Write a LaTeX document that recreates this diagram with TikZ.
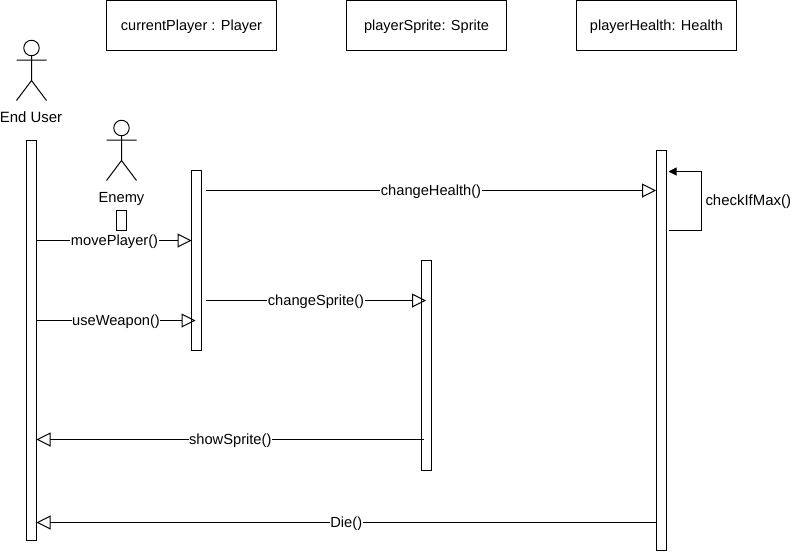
\documentclass[tikz,border=0pt]{standalone}
\usepackage{fontspec}
\setmainfont{Liberation Sans}
\usetikzlibrary{arrows.meta}
\tikzset{
  x=0.75pt,y=-0.75pt,
  every path/.append style={line width=0.75pt},
  txt/.style={font=\fontsize{11pt}{13pt}\selectfont},
  bar/.style={draw=black,fill=white,minimum width=7.5pt,minimum height=#1*0.75pt,inner sep=0pt,outer sep=0pt},
  objbox/.style={font=\fontsize{10.9pt}{13pt}\selectfont,draw=black,fill=white,minimum width=120pt,minimum height=37.5pt,inner sep=0pt,outer sep=0pt,text depth=0pt},
  lbl/.style={txt,fill=white,inner sep=0.4pt,yshift=-1.2pt},
  plain/.style={txt,inner sep=0pt},
  msg/.style={-{Triangle[open,length=10.5pt,width=10.5pt]},line width=0.75pt},
  self/.style={-{Triangle[length=6pt,width=6pt]},line width=0.75pt},
  pics/actor/.style={code={
    \draw (0,8) circle[radius=5.8pt];
    \draw (0,15.5) -- (0,40.5) (-15,20) -- (15,20) (-15,60.5) -- (0,40.5) -- (15,60.5);
  }}
}
\begin{document}
\begin{tikzpicture}
\useasboundingbox (0,0) rectangle (792,551);
% header boxes
\node[objbox,minimum width=127.5pt] (p) at (191.5,25.5) {currentPlayer : Player};
\node[objbox] (s) at (426.5,25.5) {playerSprite: Sprite};
\node[objbox] (h) at (656.5,25.5) {playerHealth: Health};
% actors
\pic at (31.5,40) {actor};
\node[plain,font=\fontsize{11.2pt}{13pt}\selectfont] (ul) at (31,117) {End User};
\pic at (121.5,120) {actor};
\node[plain] (el) at (121.5,198.8) {Enemy};
% activation bars
\node[bar=400] (ub) at (31.5,340.5) {};
\node[bar=20] (eb) at (121.5,220.5) {};
\node[bar=180] (pb) at (196.5,260.5) {};
\node[bar=210] (sb) at (426.5,365.5) {};
\node[bar=400] (hb) at (661.5,350.5) {};
% free ends
\coordinate (a1) at (36.5,240.5);
\coordinate (a2) at (191.5,240.5);
\coordinate (b1) at (36.5,320.5);
\coordinate (b2) at (195.5,320.5);
\coordinate (c1) at (206,190.5);
\coordinate (c2) at (656,190.5);
\coordinate (d1) at (206,300.5);
\coordinate (d2) at (426,300.5);
\coordinate (e1) at (424,439.5);
\coordinate (e2) at (36.5,439.5);
\coordinate (f1) at (656,522.5);
\coordinate (f2) at (36.5,522.5);
\coordinate (g1) at (668.5,230.5);
\coordinate (g2) at (701.5,230.5);
\coordinate (g3) at (701.5,171.5);
\coordinate (g4) at (668.5,171.5);
% messages
\draw[msg] (a1) -- node[lbl,xshift=0.4pt]{movePlayer()} (a2);
\draw[msg] (b1) -- node[lbl]{useWeapon()} (b2);
\draw[msg] (c1) -- node[lbl]{changeHealth()} (c2);
\draw[msg] (d1) -- node[lbl]{changeSprite()} (d2);
\draw[msg] (e1) -- node[lbl]{showSprite()} (e2);
\draw[msg] (f1) -- node[lbl]{Die()} (f2);
\draw[self] (g1) -- (g2) -- (g3) -- (g4);
\node[plain,anchor=west,font=\fontsize{11.2pt}{13pt}\selectfont] (ck) at (705,202) {checkIfMax()};
\end{tikzpicture}
\end{document}
